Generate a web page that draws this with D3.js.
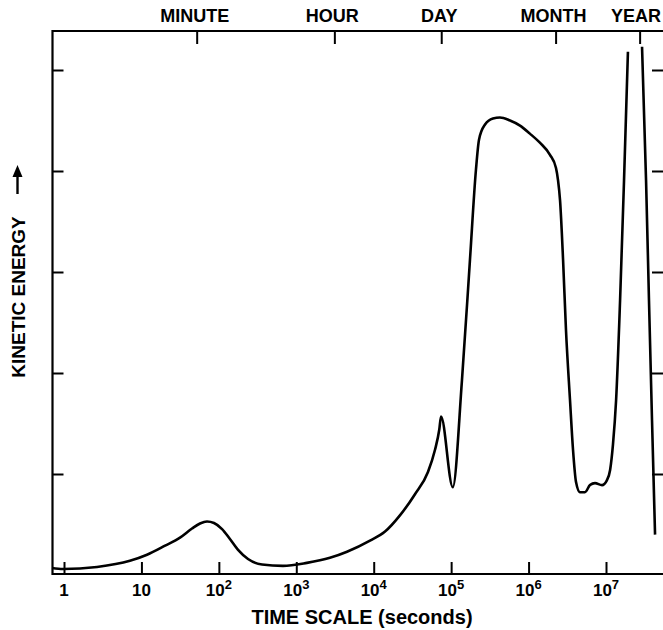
<!DOCTYPE html>
<html>
<head>
<meta charset="utf-8">
<script src="https://cdn.jsdelivr.net/npm/d3@7"></script>
<style>
  body { margin: 0; background: #fff; }
  text { font-family: "Liberation Sans", Arial, sans-serif; font-weight: bold; fill: #000; }
</style>
</head>
<body>
<div id="chart"></div>
<script>
var width = 663,
  height = 630;

var frame = { left: 52.5, top: 31, right: 664, bottom: 574 };

// curve: time in seconds, kinetic energy in tick units
var lowTime = [0.70, 0.97, 2.67, 7.1, 11.8, 20.2, 31.5, 45.0, 57.1, 70.3, 86.5, 110, 139, 177, 238, 361, 673,
  1370, 2720, 4520, 8950, 14000, 21800, 34100, 50200, 61900, 70300, 74000, 105000, 138000, 175000, 209000,
  229000, 274000, 347000, 427000, 575000, 775000, 1.04e6, 1.40e6, 1.89e6, 2.26e6, 2.40e6, 2.55e6, 2.79e6,
  3.04e6, 3.43e6, 3.75e6, 4.10e6, 4.61e6, 5.35e6, 6.21e6, 7.21e6, 8.88e6, 1.03e7, 1.13e7, 1.23e7, 1.35e7,
  1.52e7, 1.71e7, 1.92e7];
var lowEnergy = [0.07, 0.06, 0.08, 0.14, 0.20, 0.29, 0.37, 0.46, 0.51, 0.53, 0.515, 0.455, 0.356, 0.248, 0.158, 0.104, 0.09,
  0.12, 0.17, 0.23, 0.34, 0.43, 0.59, 0.80, 1.02, 1.24, 1.44, 1.57, 0.87, 1.93, 3.12, 4.01,
  4.31, 4.46, 4.52, 4.53, 4.50, 4.45, 4.37, 4.28, 4.16, 4.03, 3.91, 3.71, 3.12,
  2.43, 1.73, 1.24, 0.92, 0.82, 0.82, 0.89, 0.91, 0.89, 0.94, 1.04, 1.29, 1.73,
  2.72, 3.91, 5.18];

// falling side of the yearly peak, drawn apart from the rest
var yearTime = [2.92e7, 3.29e7, 3.59e7, 3.93e7, 4.30e7];
var yearEnergy = [5.23, 3.91, 2.72, 1.53, 0.40];

var decades = [1, 10, 100, 1e3, 1e4, 1e5, 1e6, 1e7];
var decadeBase = ["1", "10", "10", "10", "10", "10", "10", "10"];
var decadeExp = ["", "", "2", "3", "4", "5", "6", "7"];

var periodNames = ["MINUTE", "HOUR", "DAY", "MONTH", "YEAR"];
var periodSeconds = [60, 3600, 86400, 2592000, 31536000];

var energyTicks = [1, 2, 3, 4, 5];

var x = d3.scaleLog()
  .domain([1, 1e7])
  .range([64, 606]);

// the period ticks on the original sit a few pixels left of the decade scale
var xTop = d3.scaleLog()
  .domain([1, 1e7])
  .range([59, 601]);

var y = d3.scaleLinear()
  .domain([0, 5])
  .range([575, 70]);

var svg = d3.select("#chart")
  .append("svg")
  .attr("width", width)
  .attr("height", height);

// frame
svg.append("path")
  .attr("d", "M" + frame.right + "," + frame.top + "H" + frame.left + "V" + frame.bottom + "H" + frame.right)
  .attr("fill", "none")
  .attr("stroke", "#000")
  .attr("stroke-width", 2.2);

function styleAxis(g) {
  g.select(".domain").remove();
  g.selectAll(".tick line").attr("stroke", "#000").attr("stroke-width", 2);
  g.selectAll(".tick text").remove();
}

svg.append("g")
  .attr("transform", "translate(0," + frame.bottom + ")")
  .call(d3.axisTop(x).tickValues(decades).tickSize(12))
  .call(styleAxis);

svg.append("g")
  .attr("transform", "translate(0," + frame.top + ")")
  .call(d3.axisBottom(xTop).tickValues(periodSeconds).tickSize(13))
  .call(styleAxis);

svg.append("g")
  .attr("transform", "translate(" + frame.left + ",0)")
  .call(d3.axisRight(y).tickValues(energyTicks).tickSize(11))
  .call(styleAxis);

svg.append("g")
  .attr("transform", "translate(" + frame.right + ",0)")
  .call(d3.axisLeft(y).tickValues(energyTicks).tickSize(12))
  .call(styleAxis);

// decade labels with superscripts
var dl = svg.append("g")
  .selectAll("text")
  .data(decades)
  .enter()
  .append("text")
  .attr("x", function (d) { return x(d); })
  .attr("y", 596)
  .attr("text-anchor", "middle")
  .style("font-size", "17px");

dl.append("tspan").text(function (d, i) { return decadeBase[i]; });
dl.append("tspan")
  .attr("dy", -7)
  .style("font-size", "13px")
  .text(function (d, i) { return decadeExp[i]; });

svg.append("text")
  .attr("x", 362)
  .attr("y", 624)
  .attr("text-anchor", "middle")
  .style("font-size", "20px")
  .text("TIME SCALE (seconds)");

// period names, kept inside the picture at the right edge
svg.append("g")
  .selectAll("text")
  .data(periodSeconds)
  .enter()
  .append("text")
  .attr("y", 22)
  .attr("text-anchor", "middle")
  .style("font-size", "18px")
  .text(function (d, i) { return periodNames[i]; })
  .attr("x", function (d) {
    var w = this.getComputedTextLength();
    return Math.min(xTop(d) - 2, width - 2 - w / 2);
  });

// y label and its arrow
svg.append("text")
  .attr("transform", "translate(25,297)rotate(-90)")
  .attr("text-anchor", "middle")
  .style("font-size", "19px")
  .text("KINETIC ENERGY");

svg.append("path")
  .attr("d", "M17.5,194V174")
  .attr("stroke", "#000")
  .attr("stroke-width", 2.4);
svg.append("path")
  .attr("d", "M17.5,165L12.5,177L22.5,177Z")
  .attr("fill", "#000");

var line = d3.line()
  .x(function (d) { return x(d[0]); })
  .y(function (d) { return y(d[1]); })
  .curve(d3.curveMonotoneX);

svg.append("path")
  .datum(d3.zip(lowTime, lowEnergy))
  .attr("d", line)
  .attr("fill", "none")
  .attr("stroke", "#000")
  .attr("stroke-width", 2.6);

svg.append("path")
  .datum(d3.zip(yearTime, yearEnergy))
  .attr("d", line)
  .attr("fill", "none")
  .attr("stroke", "#000")
  .attr("stroke-width", 2.6);
</script>
</body>
</html>
